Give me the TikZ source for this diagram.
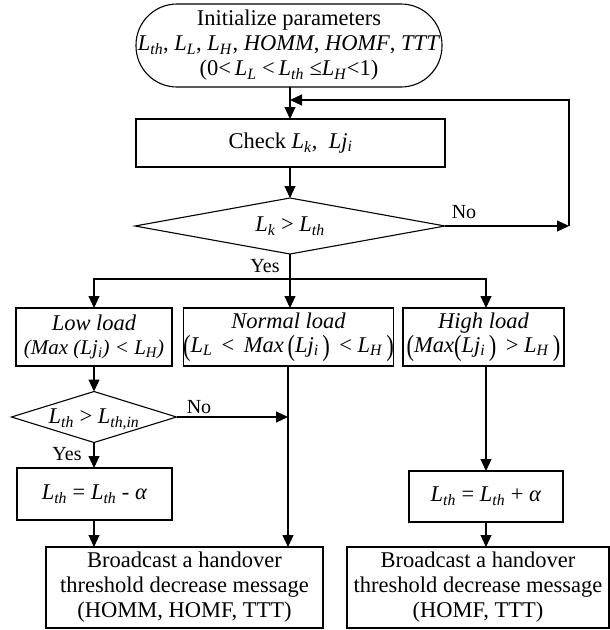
\documentclass[tikz,border=0pt]{standalone}
\usepackage{fontspec}
\setmainfont{Liberation Serif}
\usepackage{graphicx}
\usetikzlibrary{arrows.meta,shapes.geometric}

% italic L with an italic subscript, and L j_i
\newcommand\Lsb[1]{\textit{L}\textsubscript{\textit{#1}}}
\newcommand\Lji{\textit{Lj}\textsubscript{\textit{i}}}
% taller parenthesis for the load conditions
\newcommand\tallp[1]{\raisebox{-0.12em}{\scalebox{1}[1.3]{#1}}}

\begin{document}
\begin{tikzpicture}[x=1pt,y=-1pt,
  every node/.style={font=\fontsize{22.5}{25}\selectfont, inner sep=0pt, outer sep=0pt},
  box/.style={draw, line width=1.1pt, align=center},
  dia/.style={draw, diamond, line width=1.1pt},
  conn/.style={line width=1.1pt},
  arr/.style={line width=1.1pt, -{Triangle[length=12pt,width=11pt]}},
  lbl/.style={font=\fontsize{20}{22}\selectfont}
]
\useasboundingbox (0,0) rectangle (610,630);

% start
\node[box, rounded corners=41pt, minimum width=306pt, minimum height=83pt] (init) at (289,45.5)
  {Initialize parameters\\
   \Lsb{th}, \Lsb{L}, \Lsb{H}, \textit{HOMM}, \textit{HOMF}, \textit{TTT}\\
   (0<\,\Lsb{L} <\,\Lsb{th} ≤\Lsb{H}<1)};

% check loads
\node[box, minimum width=309pt, minimum height=48pt] (check) at (290.5,143)
  {Check \textit{L}\textsubscript{\textit{k}},\ \ \Lji};

% first decision
\node[dia, minimum width=310pt, minimum height=56pt] (cmp) at (290,226) {};
\node (cmptxt) at (cmp) {\Lsb{k} > \Lsb{th}};

% load classes
\node[box, minimum width=156pt, minimum height=58pt] (low) at (94,337)
  {\textit{Low load}\\[-1pt]
   {\fontsize{21}{22}\selectfont\itshape (Max (\Lji) < \Lsb{H})}};
\node[box, minimum width=209pt, minimum height=58pt] (normal) at (288.5,337)
  {\textit{Normal load}\\[-1pt]
   \tallp{(}\Lsb{L}\,\ <\ \,\textit{Max}\,\tallp{(}\Lji\,\tallp{)}\,\ <\ \Lsb{H}\,\tallp{)}};
\node[box, minimum width=161pt, minimum height=58pt] (high) at (483.5,337)
  {\textit{High load}\\[-1pt]
   \tallp{(}\textit{Max}\tallp{(}\Lji\,\tallp{)}\,\ >\ \Lsb{H}\,\tallp{)}};

% second decision (low load)
\node[dia, minimum width=165pt, minimum height=51pt] (thr) at (94,417) {};
\node (thrtxt) at (94,419) {\Lsb{th} > \Lsb{th,in}};

% threshold updates
\node[box, minimum width=155pt, minimum height=52pt] (dec) at (94.5,494)
  {\Lsb{th} = \Lsb{th} - \textit{α}};
\node[box, minimum width=154pt, minimum height=51pt] (inc) at (486,496.5)
  {\Lsb{th} = \Lsb{th} + \textit{α}};

% broadcasts
\node[box, minimum width=277pt, minimum height=81pt] (bcl) at (184.5,587.5)
  {Broadcast a handover\\threshold decrease message\\(HOMM, HOMF, TTT)};
\node[box, minimum width=262pt, minimum height=81pt] (bcr) at (478,587.5)
  {Broadcast a handover\\threshold decrease message\\(HOMF, TTT)};

% connectors
\coordinate (join) at (290,100);
\coordinate (noend) at (569,226);
\coordinate (br) at (290,279);
\coordinate (nin) at (288,417);

\draw[conn] (init.south -| join) -- (join);
\draw[arr] (join) -- (check.north -| join);
\draw[arr] (check.south -| cmp) -- (cmp.north);
\draw[arr] (cmp.east) -- (noend);
\draw[arr] (noend) |- (join);

\draw[conn] (cmp.south) -- (br);
\draw[arr] (br) -- (br |- normal.north);
\draw[arr] (br) -| (low.north);
\draw[arr] (br) -| (high.north -| inc);

\draw[arr] (low.south) -- (thr.north);
\draw[arr] (thr.east) -- (nin);
\draw[arr] (thr.south) -- (dec.north -| thr);
\draw[arr] (dec.south -| thr) -- (bcl.north -| thr);

\draw[arr] (normal.south -| nin) -- (bcl.north -| nin);
\draw[arr] (high.south -| inc) -- (inc.north);
\draw[arr] (inc.south) -- (bcr.north -| inc);

% branch labels
\node[lbl] (no1) at (464,212) {No};
\node[lbl] (yes1) at (265,266) {Yes};
\node[lbl] (no2) at (199,407) {No};
\node[lbl] (yes2) at (67,454) {Yes};
\end{tikzpicture}
\end{document}
